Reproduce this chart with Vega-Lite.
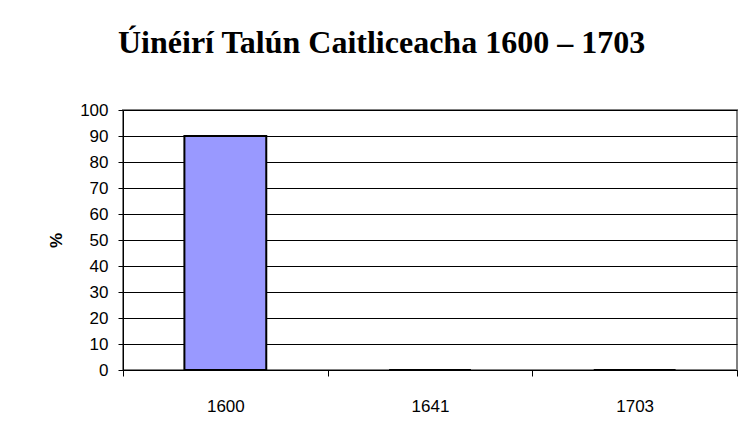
{
  "$schema": "https://vega.github.io/schema/vega-lite/v6.json",
  "autosize": "none",
  "width": 614,
  "height": 260,
  "padding": {"left": 123, "top": 110, "right": 10, "bottom": 67},
  "background": "white",
  "title": {
    "text": "Úinéirí Talún Caitliceacha 1600 – 1703",
    "font": "Liberation Serif",
    "fontSize": 32,
    "fontWeight": "bold",
    "color": "black",
    "anchor": "start",
    "frame": "group",
    "dx": -5,
    "offset": 41
  },
  "data": {
    "values": [
      {"year": "1600", "pct": 90},
      {"year": "1641", "pct": 0},
      {"year": "1703", "pct": 0}
    ]
  },
  "mark": {"type": "bar", "color": "#9999FF", "stroke": "black", "strokeWidth": 2, "width": {"band": 0.4}},
  "encoding": {
    "x": {
      "field": "year",
      "type": "ordinal",
      "scale": {"paddingInner": 0, "paddingOuter": 0},
      "axis": {
        "title": null,
        "labelAngle": 0,
        "labelFont": "Liberation Sans",
        "labelFontSize": 17,
        "labelColor": "black",
        "labelPadding": 22,
        "tickBand": "extent",
        "tickSize": 6,
        "tickColor": "black",
        "domainColor": "black",
        "grid": false
      }
    },
    "y": {
      "field": "pct",
      "type": "quantitative",
      "scale": {"domain": [0, 100]},
      "axis": {
        "title": "%",
        "titleFont": "Liberation Sans",
        "titleFontSize": 17,
        "titleFontWeight": "bold",
        "titleColor": "black",
        "titlePadding": 14,
        "values": [0, 10, 20, 30, 40, 50, 60, 70, 80, 90, 100],
        "labelFont": "Liberation Sans",
        "labelFontSize": 17,
        "labelColor": "black",
        "labelPadding": 10,
        "tickSize": 5,
        "tickColor": "black",
        "domainColor": "black",
        "gridColor": "black",
        "gridOpacity": 1
      }
    }
  },
  "config": {
    "view": {"stroke": "#808080", "strokeWidth": 2}
  }
}
